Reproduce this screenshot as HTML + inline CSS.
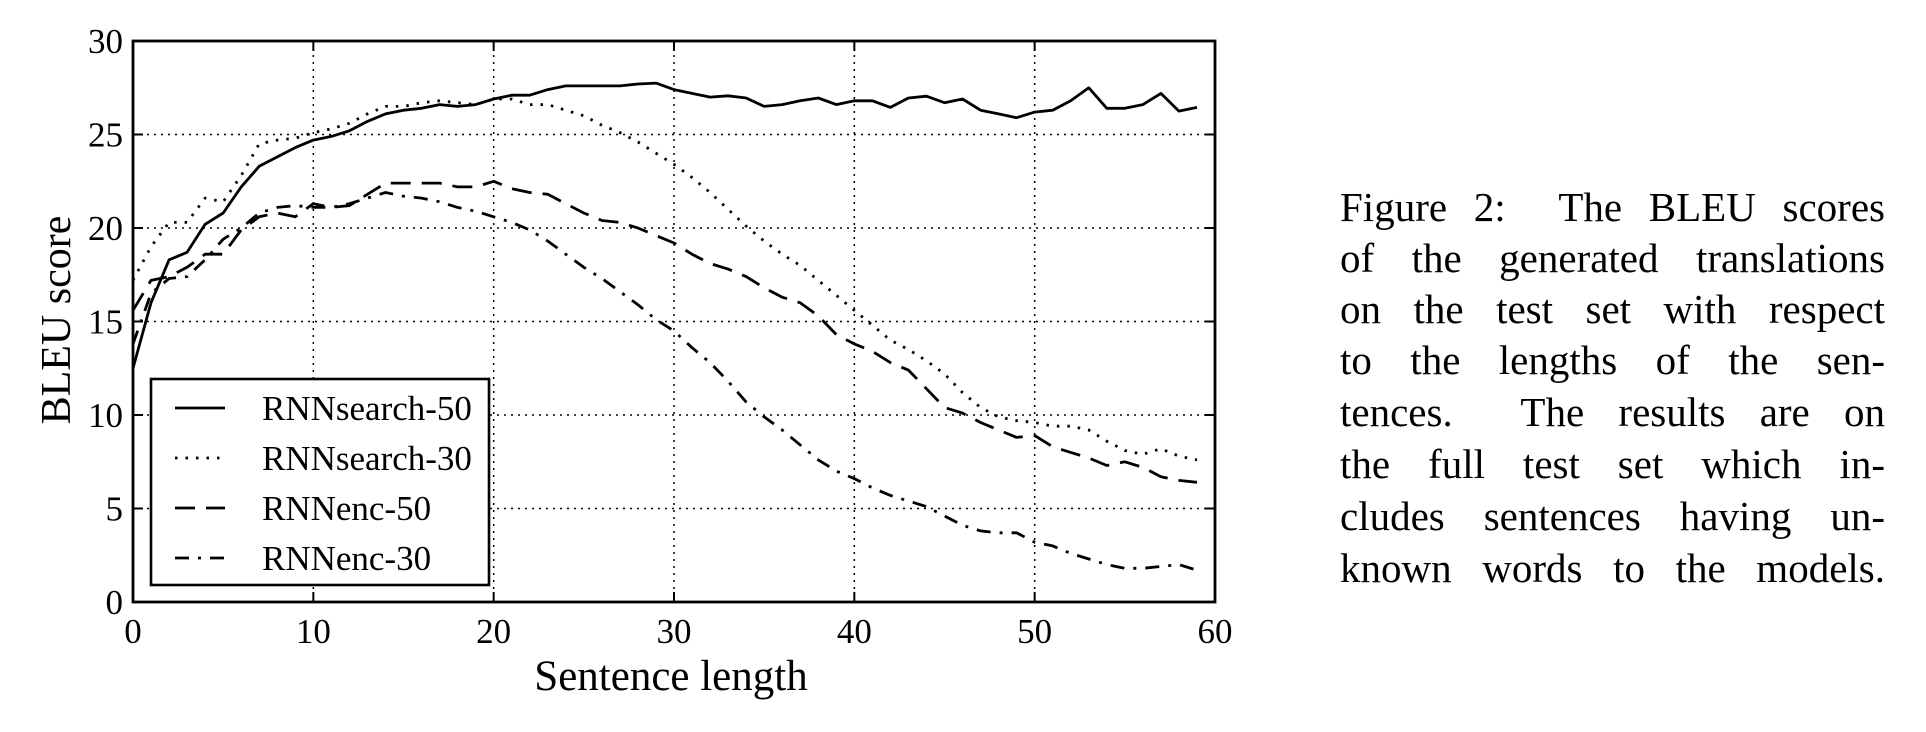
<!DOCTYPE html>
<html><head><meta charset="utf-8"><style>
html,body{margin:0;padding:0;background:#fff;width:1926px;height:732px;overflow:hidden}
svg{position:absolute;left:0;top:0}
.cap{position:absolute;left:1340px;width:545px;font-family:"Liberation Serif",serif;font-size:41px;line-height:41px;text-align:justify;text-align-last:justify;color:#000;white-space:nowrap}
</style></head><body>
<svg id="chart" width="1300" height="732" xmlns="http://www.w3.org/2000/svg" font-family="Liberation Serif, serif"></svg>
<div>
<div class="cap" style="top:187px">Figure 2:&nbsp; The BLEU scores</div>
<div class="cap" style="top:238px">of the generated translations</div>
<div class="cap" style="top:289px">on the test set with respect</div>
<div class="cap" style="top:340px">to the lengths of the sen-</div>
<div class="cap" style="top:392px">tences.&nbsp; The results are on</div>
<div class="cap" style="top:444px">the full test set which in-</div>
<div class="cap" style="top:496px">cludes sentences having un-</div>
<div class="cap" style="top:548px">known words to the models.</div>
</div>
<script>
const xTicks=[0,10,20,30,40,50,60];
const yTicks=[0,5,10,15,20,25,30];
const rnnsearch50=[12.5,16,18.3,18.7,20.2,20.8,22.2,23.3,23.8,24.3,24.7,24.9,25.2,25.7,26.1,26.3,26.4,26.6,26.5,26.6,26.9,27.1,27.1,27.4,27.6,27.6,27.6,27.6,27.7,27.75,27.4,27.2,27.0,27.07,26.95,26.5,26.6,26.8,26.95,26.6,26.8,26.8,26.45,26.95,27.05,26.7,26.9,26.3,26.1,25.9,26.2,26.3,26.8,27.5,26.4,26.4,26.6,27.2,26.25,26.45];
const rnnsearch30=[17.2,19,20.3,20.3,21.6,21.4,22.8,24.5,24.7,24.8,25.1,25.3,25.6,26.1,26.5,26.5,26.7,26.8,26.7,26.6,26.9,26.9,26.6,26.6,26.3,26.0,25.5,25.1,24.6,24.0,23.4,22.7,21.9,21.0,20.1,19.3,18.6,18.0,17.2,16.4,15.6,14.8,14.0,13.5,12.9,12.2,11.2,10.4,9.9,9.7,9.6,9.4,9.4,9.2,8.6,8.1,7.9,8.2,7.8,7.6];
const rnnenc50=[15.6,17.2,17.4,17.9,18.6,18.6,19.9,20.6,20.8,20.6,21.3,21.1,21.2,21.8,22.4,22.4,22.4,22.4,22.2,22.2,22.5,22.1,21.9,21.8,21.3,20.8,20.4,20.3,20.0,19.6,19.2,18.6,18.1,17.8,17.4,16.8,16.3,16.0,15.3,14.3,13.8,13.4,12.8,12.4,11.4,10.4,10.1,9.6,9.2,8.8,8.9,8.3,8.0,7.7,7.3,7.5,7.2,6.7,6.5,6.4];
const rnnenc30=[13.8,16.5,17.3,17.4,18.3,19.4,20.0,20.8,21.1,21.2,21.1,21.1,21.3,21.6,21.9,21.7,21.6,21.4,21.1,20.9,20.6,20.3,19.9,19.3,18.6,17.9,17.3,16.6,15.9,15.1,14.5,13.6,12.8,11.8,10.7,9.9,9.2,8.4,7.6,7.0,6.6,6.1,5.7,5.4,5.1,4.6,4.1,3.8,3.7,3.7,3.2,3.0,2.6,2.3,2.0,1.8,1.8,1.9,2.0,1.7];

const svg=document.getElementById('chart');
const NS='http://www.w3.org/2000/svg';
const L=133,R=1215,T=41,B=602;
const xs=v=>L+(v/60)*(R-L);
const ys=v=>B-(v/30)*(B-T);
function mk(tag,attrs,parent){const e=document.createElementNS(NS,tag);for(const k in attrs)e.setAttribute(k,attrs[k]);(parent||svg).appendChild(e);return e;}

const grid=mk('g',{});


xTicks.forEach(t=>{if(t>0&&t<60){const l=mk('line',{x1:xs(t),x2:xs(t),y1:T,y2:B,stroke:'#000','stroke-width':1.5,'stroke-dasharray':'2,5'},grid);

}});
yTicks.forEach(t=>{if(t>0&&t<30){const l=mk('line',{x1:L,x2:R,y1:ys(t),y2:ys(t),stroke:'#000','stroke-width':1.5,'stroke-dasharray':'2,5'},grid);

}});

const series=[
 {name:'RNNsearch-50',data:rnnsearch50,dash:'none'},
 {name:'RNNsearch-30',data:rnnsearch30,dash:'2.5,8'},
 {name:'RNNenc-50',data:rnnenc50,dash:'20,11'},
 {name:'RNNenc-30',data:rnnenc30,dash:'14,9,3,9'}
];
series.forEach(s=>{
 const d=s.data.map((v,i)=>(i?'L':'M')+xs(i).toFixed(1)+','+ys(v).toFixed(1)).join('');
 const p=mk('path',{d:d,fill:'none',stroke:'#000','stroke-width':2.8,'stroke-dasharray':s.dash,'stroke-linejoin':'round'});
 
 
});

const frame=mk('rect',{x:L,y:T,width:R-L,height:B-T,fill:'none',stroke:'#000','stroke-width':2.8});



xTicks.forEach(t=>{
 mk('line',{x1:xs(t),x2:xs(t),y1:B,y2:B-10,stroke:'#000','stroke-width':2});
 mk('line',{x1:xs(t),x2:xs(t),y1:T,y2:T+10,stroke:'#000','stroke-width':2});
 const tx=mk('text',{x:xs(t),y:643,'font-size':35,'text-anchor':'middle'});
 tx.textContent=t;
 
 
});
yTicks.forEach(t=>{
 mk('line',{x1:L,x2:L+10,y1:ys(t),y2:ys(t),stroke:'#000','stroke-width':2});
 mk('line',{x1:R,x2:R-10,y1:ys(t),y2:ys(t),stroke:'#000','stroke-width':2});
 const tx=mk('text',{x:L-10,y:ys(t)+12,'font-size':35,'text-anchor':'end'});
 tx.textContent=t;
 
 
});

const xt=mk('text',{x:(L+R)/2-3,y:690,'font-size':43,'text-anchor':'middle'});
xt.textContent='Sentence length';


const yt=mk('text',{x:0,y:0,'font-size':42,'text-anchor':'middle',transform:'translate(70,320) rotate(-90)'});
yt.textContent='BLEU score';



const lg=mk('g',{});


mk('rect',{x:151,y:379,width:338,height:206,fill:'#fff',stroke:'#000','stroke-width':2.6},lg);
series.forEach((s,i)=>{
 const y=408+i*50;
 mk('line',{x1:175,x2:225,y1:y,y2:y,stroke:'#000','stroke-width':2.8,'stroke-dasharray':s.dash},lg);
 const tx=mk('text',{x:262,y:y+12,'font-size':35},lg);
 tx.textContent=s.name;
 
 
});
</script>
</body></html>
